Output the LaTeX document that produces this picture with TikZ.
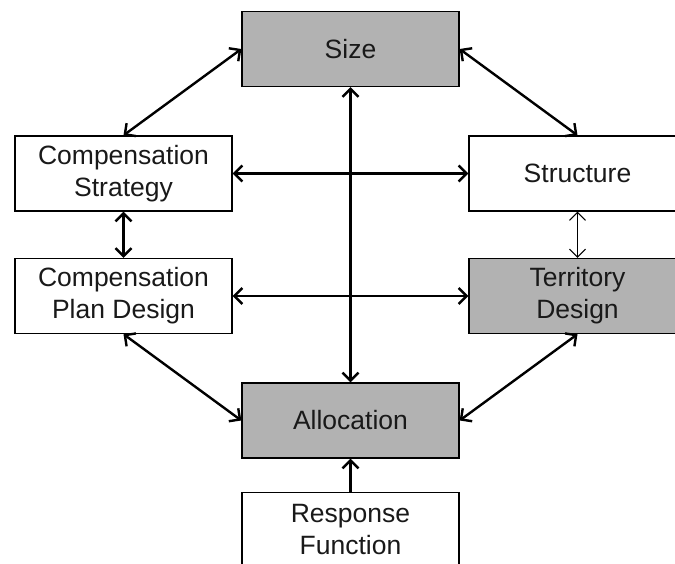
\documentclass[tikz,border=0pt]{standalone}
\usepackage{fontspec}
\setmainfont{Liberation Sans}
\usetikzlibrary{arrows.meta}

\tikzset{
    box/.style={draw, line width=1.3pt, minimum width=217pt, minimum height=75pt,
        inner sep=0pt, align=center, text=black!90, font=\fontsize{26.5}{32}\selectfont},
    shaded/.style={box, fill=gray!60},
    link/.style={line width=2.4pt, {Straight Barb[length=8pt,width=16pt]}-{Straight Barb[length=8pt,width=16pt]}},
    thinlink/.style={line width=1.1pt, {Straight Barb[length=8pt,width=16pt]}-{Straight Barb[length=8pt,width=16pt]}}
}

\begin{document}
\begin{tikzpicture}[x=1pt,y=-1pt]

            % Frame of the picture (right column and bottom box are cut off)
            \useasboundingbox (0,0) rectangle (675,564);
            \clip (0,0) rectangle (675,564);

            % The boxes
            \node[shaded] (size)   at (350.5,49)    {Size};
            \node[box]    (strat)  at (123.5,173.5) {Compensation\\Strategy};
            \node[box]    (struct) at (577.5,173.5) {Structure};
            \node[box]    (plan)   at (123.5,296)   {Compensation\\Plan Design};
            \node[shaded] (terr)   at (577.5,296)   {Territory\\Design};
            \node[shaded] (alloc)  at (350.5,420.5) {Allocation};
            \node[box]    (resp)   at (350.5,530)   {Response\\Function};

            % Two-way links (loop)
            \foreach \a/\b in {size.west/strat.north, size.east/struct.north,
                               strat.east/struct.west, plan.east/terr.west,
                               size.south/alloc.north, strat.south/plan.north,
                               plan.south/alloc.west, terr.south/alloc.east}
                \draw[link] (\a) -- (\b);

            % Thin link on the right side
            \draw[thinlink] (struct.south) -- (terr.north);

            % One-way link into allocation
            \draw[line width=2.4pt, -{Straight Barb[length=8pt,width=16pt]}] (resp.north) -- (alloc.south);

        \end{tikzpicture}
\end{document}
